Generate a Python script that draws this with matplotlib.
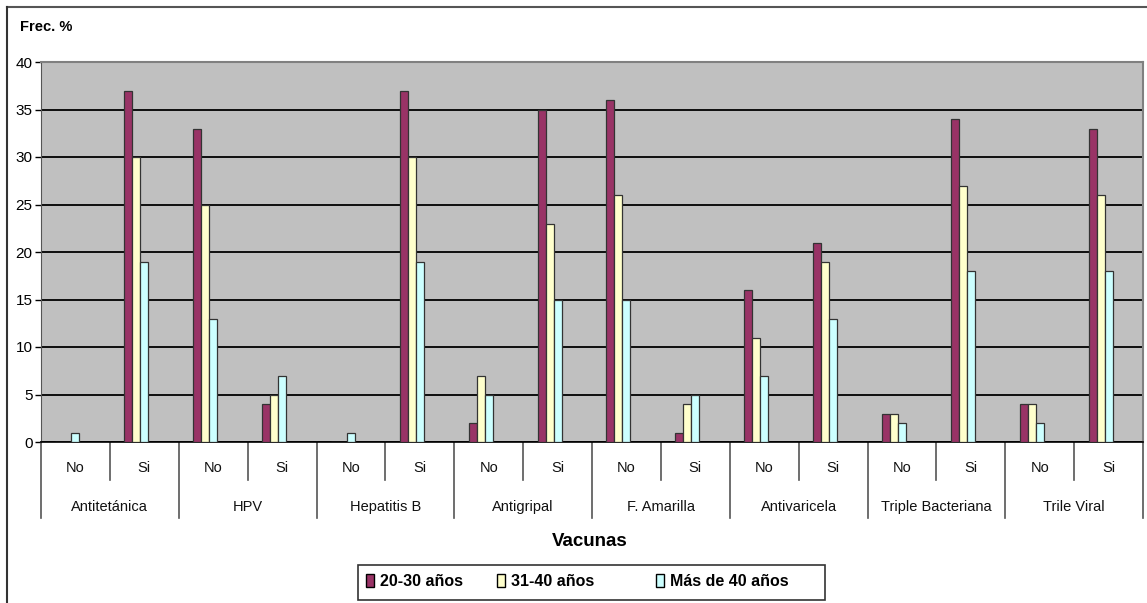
import numpy as np
import matplotlib
matplotlib.use("Agg")
import matplotlib.pyplot as plt
from matplotlib.lines import Line2D
from matplotlib.patches import Rectangle
import matplotlib.transforms as mtransforms

plt.rcParams['font.family'] = ['Liberation Sans', 'DejaVu Sans']

# datos: frecuencia (%) por vacuna, No/Si, grupo de edad
vacunas = ["Antitetánica", "HPV", "Hepatitis B", "Antigripal",
           "F. Amarilla", "Antivaricela", "Triple Bacteriana", "Trile Viral"]
respuestas = ["No", "Si"]
series = ["20-30 años", "31-40 años", "Más de 40 años"]

edad_20_30 = [0, 37, 33, 4, 0, 37, 2, 35, 36, 1, 16, 21, 3, 34, 4, 33]
edad_31_40 = [0, 30, 25, 5, 0, 30, 7, 23, 26, 4, 11, 19, 3, 27, 4, 26]
edad_40_mas = [1, 19, 13, 7, 1, 19, 5, 15, 15, 5, 7, 13, 2, 18, 2, 18]

colores = ["#993366", "#FFFFCC", "#CCFFFF"]

fig = plt.figure(figsize=(11.47, 6.03), dpi=100)
W, H = 1147, 603
ax = fig.add_axes([41 / W, 1 - 442 / H, (1143 - 41) / W, (442 - 62) / H])
ax.set_facecolor("#C0C0C0")

n = len(edad_20_30)
x = np.arange(n) + 0.5
bw = 0.116
for k, (vals, col) in enumerate(zip([edad_20_30, edad_31_40, edad_40_mas], colores)):
    ax.bar(x + (k - 2) * bw, vals, width=bw, color=col, edgecolor="#333333",
           linewidth=0.9, label=series[k], zorder=3)

ax.set_xlim(0, n)
ax.set_ylim(0, 40)
ax.set_yticks(np.arange(0, 41, 5))
ax.yaxis.grid(True, color="black", linewidth=1.3, zorder=1)
ax.set_axisbelow(True)
ax.tick_params(axis="y", length=4, width=1, labelsize=11, pad=2)
ax.set_xticks([])
for s in ["top", "right"]:
    ax.spines[s].set_color("#808080")
    ax.spines[s].set_linewidth(1.5)
ax.spines["left"].set_color("#555555")
ax.spines["bottom"].set_color("black")
ax.spines["bottom"].set_linewidth(1.2)

# etiquetas jerárquicas del eje X
trans = mtransforms.blended_transform_factory(ax.transData, ax.transAxes)
y_in = -38 / 380
y_out = -76 / 380
for i in range(n):
    ax.text(x[i], -26 / 380, respuestas[i % 2], transform=trans, ha="center",
            va="center", fontsize=10.5, color="#111111")
for i in range(n + 1):
    bottom = y_out if i % 2 == 0 else y_in
    ax.add_line(Line2D([i, i], [0, bottom], transform=trans, color="#555555",
                       linewidth=1.2, clip_on=False))
for j, v in enumerate(vacunas):
    ax.text(2 * j + 1, -65 / 380, v, transform=trans, ha="center", va="center",
            fontsize=10.5, color="#111111")

fig.text(590 / W, 1 - 542 / H, "Vacunas", ha="center", va="center",
         fontsize=13.5, fontweight="bold")
fig.text(20 / W, 1 - 27 / H, "Frec. %", ha="left", va="center",
         fontsize=10.5, fontweight="bold")

# marco exterior
fig.add_artist(Line2D([7 / W, 1], [1 - 7 / H, 1 - 7 / H], color="#555555", linewidth=1.5))
fig.add_artist(Line2D([7 / W, 7 / W], [0, 1 - 7 / H], color="#333333", linewidth=1.5))

# leyenda
fig.add_artist(Rectangle((358 / W, 1 - 600 / H), (825 - 358) / W, 35 / H,
                         transform=fig.transFigure, facecolor="white",
                         edgecolor="#333333", linewidth=1.2))
pos = [366, 497, 656]
for p, s, c in zip(pos, series, colores):
    fig.add_artist(Rectangle((p / W, 1 - 587 / H), 8 / W, 13 / H,
                             transform=fig.transFigure, facecolor=c,
                             edgecolor="black", linewidth=1))
    fig.text((p + 14) / W, 1 - 581 / H, s, ha="left", va="center",
             fontsize=11.5, fontweight="bold")

fig.savefig("out.png", dpi=100)
